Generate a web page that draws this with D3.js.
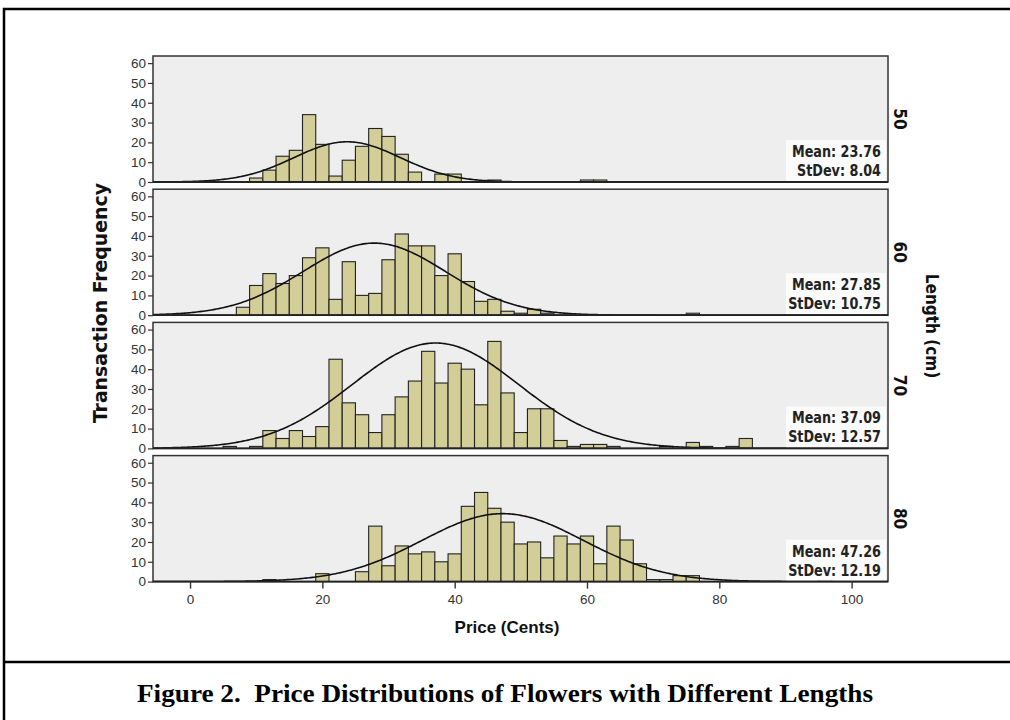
<!DOCTYPE html>
<html>
<head>
<meta charset="utf-8">
<script src="https://cdn.jsdelivr.net/npm/d3@7"></script>
<style>
  html, body { margin: 0; padding: 0; background: #ffffff; }
  svg { display: block; }
</style>
</head>
<body>
<svg id="chart" width="1010" height="720"></svg>
<script>
// ---------------- data ----------------
const lengthLabels = ["50", "60", "70", "80"];
const binStarts = [5,7,9,11,13,15,17,19,21,23,25,27,29,31,33,35,37,39,41,43,45,47,49,51,53,55,57,59,61,63,65,67,69,71,73,75,77,79,81,83,85,87,89,91,93,95,97];
const binWidth = 2;
//                 5 7 9 11 13 15 17 19 21 23 25 27 29 31 33 35 37 39 41 43 45 47 49 51 53 55 57 59 61 63 65 67 69 71 73 75 77 79 81 83 85 87 89 91 93 95 97
const counts50 = [0,0,2, 6,13,16,34,19, 3,11,18,27,23,14, 5, 0, 4, 4, 0, 0, 1, 0, 0, 0, 0, 0, 0, 1, 1, 0, 0, 0, 0, 0, 0, 0, 0, 0, 0, 0, 0, 0, 0, 0, 0, 0, 0];
const counts60 = [0,4,15,21,16,20,29,34, 8,27,10,11,28,41,35,35,20,31,17, 7, 8, 2, 1, 3, 1, 0, 0, 0, 0, 0, 0, 0, 0, 0, 0, 1, 0, 0, 0, 0, 0, 0, 0, 0, 0, 0, 0];
const counts70 = [1,0,1, 9, 5, 9, 6,11,45,23,17, 8,17,26,34,49,33,43,40,22,54,28, 8,20,20, 4, 1, 2, 2, 1, 0, 0, 0, 1, 0, 3, 1, 0, 1, 5, 0, 0, 0, 0, 0, 0, 0];
const counts80 = [0,0,0, 1, 0, 0, 0, 4, 0, 0, 5,28, 8,18,14,15,10,14,38,45,37,30,19,20,12,23,19,23, 9,28,21, 9, 1, 1, 3, 3, 0, 0, 0, 0, 0, 0, 0, 0, 0, 1, 0];
const panelCounts = [counts50, counts60, counts70, counts80];
const means = [23.76, 27.85, 37.09, 47.26];
const stdevs = [8.04, 10.75, 12.57, 12.19];
const curvePeaks = [20.3, 36.4, 53.2, 34.3];
const yTicks = [0, 10, 20, 30, 40, 50, 60];
const xTicks = [0, 20, 40, 60, 80, 100];
const xTitle = "Price (Cents)";
const yTitle = "Transaction Frequency";
const rightTitle = "Length (cm)";
const caption = "Figure 2.  Price Distributions of Flowers with Different Lengths";

// ---------------- layout ----------------
const svg = d3.select("#chart");
const plotLeft = 153, plotRight = 888;
const panelTop0 = 56, panelStep = 133.2, panelH = 126;
const condensed = "'DejaVu Sans Condensed', 'DejaVu Sans', sans-serif";
const sans = "'Liberation Sans', Arial, sans-serif";

const x = d3.scaleLinear().domain([-5.6, 105.5]).range([plotLeft, plotRight]);

// squeeze a text horizontally to a fraction of its natural width
function squeeze(sel, factor) {
  sel.each(function () {
    const w = this.getComputedTextLength();
    d3.select(this).attr("textLength", w * factor).attr("lengthAdjust", "spacingAndGlyphs");
  });
}

// outer frame
svg.append("rect").attr("x", 4).attr("y", 9).attr("width", 1020).attr("height", 720)
  .attr("fill", "none").attr("stroke", "#000").attr("stroke-width", 2.5);
svg.append("line").attr("x1", 4).attr("x2", 1010).attr("y1", 662).attr("y2", 662)
  .attr("stroke", "#000").attr("stroke-width", 2.5);

svg.append("defs").append("clipPath").attr("id", "plotclip")
  .append("rect").attr("x", plotLeft).attr("y", 0).attr("width", plotRight - plotLeft).attr("height", panelH);

panelCounts.forEach((counts, i) => {
  const top = panelTop0 + i * panelStep;
  const g = svg.append("g").attr("transform", `translate(0,${top})`);
  const y = d3.scaleLinear().domain([0, 63.6]).range([panelH, 0]);

  g.append("rect").attr("x", plotLeft).attr("y", 0).attr("width", plotRight - plotLeft).attr("height", panelH)
    .attr("fill", "#eeeeee");

  const inner = g.append("g").attr("clip-path", "url(#plotclip)");
  const bins = binStarts.map((s, k) => ({ s, c: counts[k] })).filter(d => d.c > 0);
  inner.selectAll("rect.bar").data(bins).enter().append("rect").attr("class", "bar")
    .attr("x", d => x(d.s)).attr("width", d => x(d.s + binWidth) - x(d.s))
    .attr("y", d => y(d.c)).attr("height", d => y(0) - y(d.c))
    .attr("fill", "#d3cd98").attr("stroke", "#222").attr("stroke-width", 1.1);

  // normal curve
  const m = means[i], sd = stdevs[i], pk = curvePeaks[i];
  const xs = d3.range(-6, 106, 0.25);
  const line = d3.line().x(d => x(d)).y(d => y(pk * Math.exp(-((d - m) ** 2) / (2 * sd * sd))));
  inner.append("path").datum(xs).attr("d", line).attr("fill", "none")
    .attr("stroke", "#111").attr("stroke-width", 1.6);

  // stats box
  const bx = 786, bw = plotRight - 2 - bx;
  g.append("rect").attr("x", bx).attr("y", panelH - 42).attr("width", bw).attr("height", 41)
    .attr("fill", "#fbfbfb");
  const t1 = g.append("text").attr("x", plotRight - 7).attr("y", panelH - 25).attr("text-anchor", "end")
    .attr("font-family", condensed).attr("font-weight", "bold").attr("font-size", 16.5)
    .attr("fill", "#222").text(`Mean: ${m.toFixed(2)}`);
  const t2 = g.append("text").attr("x", plotRight - 7).attr("y", panelH - 6).attr("text-anchor", "end")
    .attr("font-family", condensed).attr("font-weight", "bold").attr("font-size", 16.5)
    .attr("fill", "#222").text(`StDev: ${sd.toFixed(2)}`);
  squeeze(t1, 0.86);
  squeeze(t2, 0.86);

  // frame
  g.append("rect").attr("x", plotLeft).attr("y", 0).attr("width", plotRight - plotLeft).attr("height", panelH)
    .attr("fill", "none").attr("stroke", "#333").attr("stroke-width", 1.5);

  // y axis
  const ya = g.append("g").attr("transform", `translate(${plotLeft},0)`)
    .call(d3.axisLeft(y).tickValues(yTicks).tickSize(5).tickPadding(2));
  ya.select(".domain").remove();
  ya.selectAll("line").attr("stroke", "#333").attr("stroke-width", 1.2);
  ya.selectAll("text").attr("font-family", sans).attr("font-size", 13.5).attr("fill", "#333");

  // baseline
  g.append("line").attr("x1", plotLeft).attr("x2", plotRight).attr("y1", panelH).attr("y2", panelH)
    .attr("stroke", "#222").attr("stroke-width", 1.8);

  // right label
  g.append("text").attr("transform", `translate(${plotRight + 6},${panelH / 2}) rotate(90)`)
    .attr("text-anchor", "middle").attr("font-family", condensed).attr("font-weight", "bold")
    .attr("font-size", 17).attr("fill", "#111").text(lengthLabels[i]);

  if (i === panelCounts.length - 1) {
    const xa = g.append("g").attr("transform", `translate(0,${panelH})`)
      .call(d3.axisBottom(x).tickValues(xTicks).tickSize(7).tickPadding(6));
    xa.select(".domain").remove();
    xa.selectAll("line").attr("stroke", "#333").attr("stroke-width", 1.4);
    xa.selectAll("text").attr("font-family", sans).attr("font-size", 13.5).attr("fill", "#333");
  }
});

// axis titles
svg.append("text").attr("x", 507).attr("y", 633).attr("text-anchor", "middle")
  .attr("font-family", sans).attr("font-weight", "bold")
  .attr("font-size", 17).attr("fill", "#111").text(xTitle);
svg.append("text").attr("transform", "translate(107,303) rotate(-90)").attr("text-anchor", "middle")
  .attr("font-family", condensed).attr("font-weight", "bold").attr("font-size", 19)
  .attr("textLength", 240).attr("lengthAdjust", "spacingAndGlyphs")
  .attr("fill", "#111").text(yTitle);
svg.append("text").attr("transform", "translate(926,326) rotate(90)").attr("text-anchor", "middle")
  .attr("font-family", condensed).attr("font-weight", "bold").attr("font-size", 17)
  .attr("fill", "#111").text(rightTitle);

// caption
svg.append("text").attr("x", 505).attr("y", 702).attr("text-anchor", "middle")
  .attr("font-family", "'Liberation Serif', 'Times New Roman', serif").attr("font-weight", "bold")
  .attr("font-size", 26).attr("textLength", 736).attr("lengthAdjust", "spacingAndGlyphs")
  .attr("fill", "#000").attr("xml:space", "preserve").text(caption);
</script>
</body>
</html>
